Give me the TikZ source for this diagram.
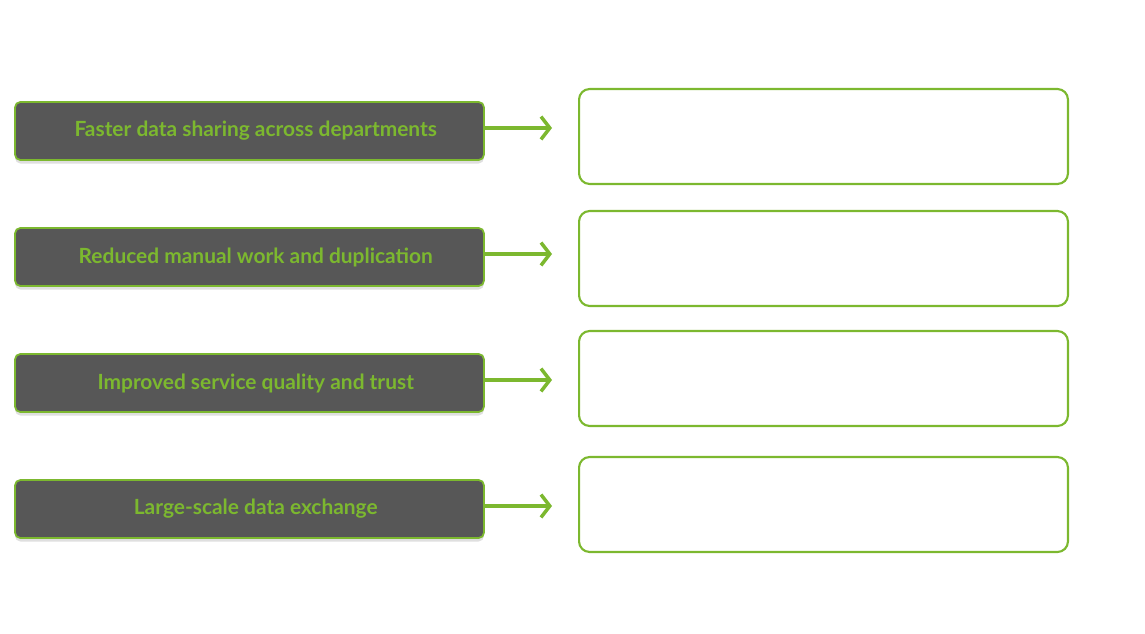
\documentclass[tikz,border=0pt]{standalone}
\usepackage{fontspec}
\setmainfont{Lato}
\usetikzlibrary{arrows.meta,shadows}
\definecolor{leaf}{HTML}{7CB82F}
\definecolor{slate}{HTML}{575757}
\tikzstyle{benefit}=[draw=leaf,fill=slate,line width=1pt,rounded corners=3pt,minimum width=9.38cm,minimum height=1.16cm,text=leaf,font=\fontsize{11.9}{13}\selectfont\bfseries,drop shadow={shadow xshift=0pt,shadow yshift=-2pt,opacity=0.25}]
\tikzstyle{slot}=[draw=leaf,line width=1.2pt,rounded corners=6pt,minimum width=9.78cm,minimum height=1.9cm]
\tikzstyle{link}=[draw=leaf,line width=2pt,-{Straight Barb[length=5pt,width=13pt]}]

\begin{document}
\begin{tikzpicture}[x=0.02cm,y=0.02cm]
\useasboundingbox (0,0) rectangle (1145,633);
\node[benefit] (B1) at (249.5,502) {\hspace{0.25cm}Faster data sharing across departments};
\node[benefit] (B2) at (249.5,376) {\hspace{0.25cm}Reduced manual work and duplication};
\node[benefit] (B3) at (249.5,250) {\hspace{0.25cm}Improved service quality and trust};
\node[benefit] (B4) at (249.5,124) {\hspace{0.25cm}Large-scale data exchange};
\node[slot] (S1) at (823.5,496.5) {};
\node[slot] (S2) at (823.5,374.5) {};
\node[slot] (S3) at (823.5,254.5) {};
\node[slot] (S4) at (823.5,128.5) {};
\coordinate (E1) at (552,505);
\coordinate (E2) at (552,379);
\coordinate (E3) at (552,253);
\coordinate (E4) at (552,127);
\draw[link] (B1.east |- E1) -- (E1);
\draw[link] (B2.east |- E2) -- (E2);
\draw[link] (B3.east |- E3) -- (E3);
\draw[link] (B4.east |- E4) -- (E4);
\end{tikzpicture}
\end{document}
